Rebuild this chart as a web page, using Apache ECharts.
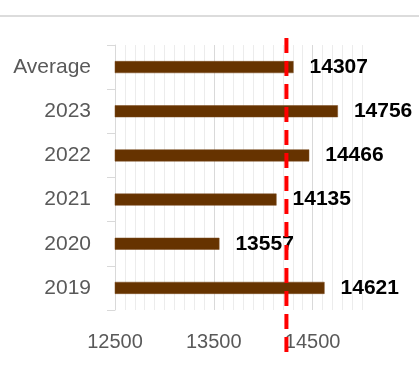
<!DOCTYPE html>
<html>
<head>
<meta charset="utf-8">
<script src="https://cdn.jsdelivr.net/npm/echarts@6/dist/echarts.min.js"></script>
<style>
html,body{margin:0;padding:0;background:#fff;}
#c{width:419px;height:365px;}
</style>
</head>
<body>
<div id="c"></div>
<script>
var categories = ['2019', '2020', '2021', '2022', '2023', 'Average'];
var values = [14621, 13557, 14135, 14466, 14756, 14307];
var referenceValue = 14235;
var axisMin = 12500;
var axisMax = 15000;

var chart = echarts.init(document.getElementById('c'), null, {renderer: 'canvas'});
var FONT = 'Liberation Sans, Arial, sans-serif';
chart.setOption({
  animation: false,
  backgroundColor: '#ffffff',
  graphic: [{
    type: 'line', shape: {x1: 0, y1: 16, x2: 419, y2: 16},
    style: {stroke: '#dcdcdc', lineWidth: 2}, silent: true
  }],
  grid: [
    {left: 115, right: 57, top: 45, bottom: 55},
    {left: 115, right: 57, top: 38, bottom: 7}
  ],
  xAxis: [
    {
      gridIndex: 0, type: 'value', min: axisMin, max: axisMax, interval: 100, position: 'top',
      axisLine: {show: false}, axisTick: {show: false}, axisLabel: {show: false},
      splitLine: {show: true, lineStyle: {color: '#ececec', width: 1}}
    },
    {
      gridIndex: 0, type: 'value', min: axisMin, max: axisMax, interval: 1000, position: 'bottom',
      axisLine: {show: false}, axisTick: {show: false},
      axisLabel: {color: '#595959', fontSize: 20, fontFamily: FONT, margin: 22, showMaxLabel: false,
                  formatter: function (v) { return String(v); }},
      splitLine: {show: true, showMaxLine: false, lineStyle: {color: '#d9d9d9', width: 1}}
    },
    {
      gridIndex: 1, type: 'value', min: axisMin, max: axisMax, show: false
    }
  ],
  yAxis: [
    {
      gridIndex: 0, type: 'category', data: categories,
      axisLine: {show: true, lineStyle: {color: '#d9d9d9', width: 1}},
      axisTick: {show: true, length: 8, lineStyle: {color: '#d9d9d9'}},
      axisLabel: {color: '#595959', fontSize: 21, fontFamily: FONT, margin: 24},
      splitLine: {show: false}
    },
    {
      gridIndex: 1, type: 'value', min: 0, max: 1, show: false
    }
  ],
  series: [
    {
      type: 'bar', xAxisIndex: 1, yAxisIndex: 0, data: values, barWidth: 12, z: 2,
      itemStyle: {color: '#663300', borderColor: '#7a4a1f', borderWidth: 0.5},
      label: {show: true, position: 'right', distance: 16, color: '#000', fontWeight: 'bold',
              fontSize: 21, fontFamily: FONT, formatter: '{c}'}
    },
    {
      type: 'line', xAxisIndex: 2, yAxisIndex: 1, z: 10, symbol: 'none', silent: true,
      data: [[referenceValue, 1], [referenceValue, 0]],
      lineStyle: {color: '#ff0000', width: 4, type: [15, 8]}
    }
  ]
});
</script>
</body>
</html>
